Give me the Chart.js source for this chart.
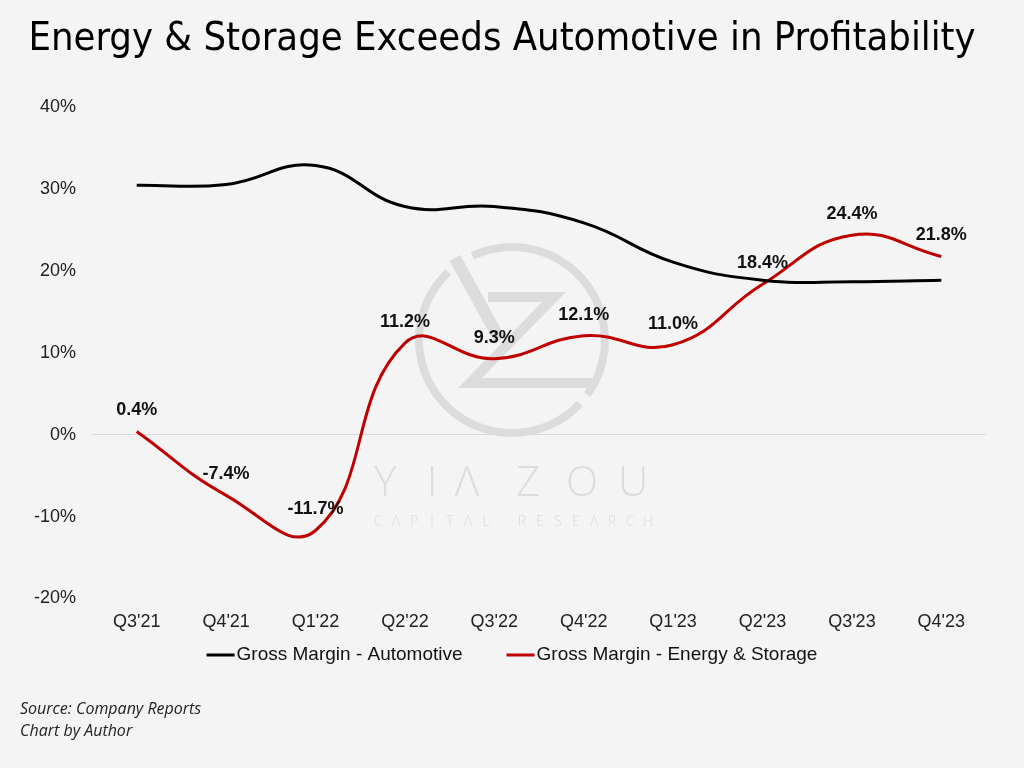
<!DOCTYPE html>
<html>
<head>
<meta charset="utf-8">
<script src="https://cdn.jsdelivr.net/npm/chart.js@4"></script>
<style>
  html, body { margin: 0; padding: 0; background: #f4f4f4; }
  canvas { display: block; }
</style>
</head>
<body>
<canvas id="chart" width="1024" height="768"></canvas>
<script>
// Chart data
const quarters = ["Q3'21", "Q4'21", "Q1'22", "Q2'22", "Q3'22", "Q4'22", "Q1'23", "Q2'23", "Q3'23", "Q4'23"];
const automotive = [30.5, 30.6, 32.9, 27.9, 27.9, 25.9, 21.1, 18.9, 18.7, 18.9];
const energyStorage = [0.4, -7.4, -11.7, 11.2, 9.3, 12.1, 11.0, 18.4, 24.4, 21.8];
const yTicks = [-20, -10, 0, 10, 20, 30, 40];
const seriesNames = ["Gross Margin - Automotive", "Gross Margin - Energy & Storage"];
const seriesColors = ["#000000", "#c00000"];

const labelFont = "'Liberation Sans', Arial, sans-serif";

// Background, watermark and source notes
const backdrop = {
  id: "backdrop",
  beforeDraw(chart) {
    const ctx = chart.ctx;
    ctx.save();
    ctx.fillStyle = "#f4f4f4";
    ctx.fillRect(0, 0, chart.width, chart.height);

    // watermark logo (ring with Y / Z strokes)
    ctx.strokeStyle = "#dcdcdc";
    ctx.lineWidth = 8;
    ctx.beginPath();
    ctx.arc(512, 340, 93, Math.PI * 1.36, Math.PI * 2.2);
    ctx.stroke();
    ctx.beginPath();
    ctx.arc(512, 340, 93, Math.PI * 0.24, Math.PI * 1.26);
    ctx.stroke();
    ctx.lineWidth = 12;
    ctx.beginPath();
    ctx.moveTo(455, 258);
    ctx.lineTo(500, 340);
    ctx.stroke();
    ctx.lineWidth = 10;
    ctx.lineJoin = "miter";
    ctx.beginPath();
    ctx.moveTo(488, 297);
    ctx.lineTo(554, 297);
    ctx.lineTo(470, 383);
    ctx.lineTo(596, 383);
    ctx.stroke();

    ctx.fillStyle = "#dcdcdc";
    ctx.font = "300 42px 'Open Sans'";
    ctx.textBaseline = "middle";
    ctx.textAlign = "center";
    const big = ["Y", "I", "\u039B", "Z", "O", "U"];
    const bigX = [385, 432, 467, 528, 582, 633];
    big.forEach((ch, i) => ctx.fillText(ch, bigX[i], 484));
    ctx.font = "300 14px 'Open Sans'";
    const small = "CAPITAL RESEARCH".split("");
    small.forEach((ch, i) => {
      if (ch !== " ") ctx.fillText(ch === "A" ? "\u039B" : ch, 378 + i * 18.0, 522);
    });

    // source notes
    ctx.fillStyle = "#222";
    ctx.textAlign = "left";
    ctx.font = "italic 16px 'Open Sans'";
    ctx.fillText("Source: Company Reports", 20, 709);
    ctx.fillText("Chart by Author", 20, 731);
    ctx.restore();
  }
};

// Value labels above the energy line, plus the legend row
const overlay = {
  id: "overlay",
  afterDatasetsDraw(chart) {
    const ctx = chart.ctx;
    const meta = chart.getDatasetMeta(1);
    ctx.save();
    ctx.font = "bold 18px " + labelFont;
    ctx.fillStyle = "#111";
    ctx.textAlign = "center";
    ctx.textBaseline = "middle";
    meta.data.forEach((pt, i) => {
      ctx.fillText(energyStorage[i].toFixed(1) + "%", pt.x, pt.y - 21);
    });

    // legend
    ctx.font = "19px " + labelFont;
    ctx.textAlign = "left";
    const gap = 44;
    const widths = seriesNames.map((n) => 30 + ctx.measureText(n).width);
    const total = widths[0] + gap + widths[1];
    let x = chart.width / 2 - total / 2;
    const y = 655;
    seriesNames.forEach((name, i) => {
      ctx.strokeStyle = seriesColors[i];
      ctx.lineWidth = 3;
      ctx.beginPath();
      ctx.moveTo(x, y);
      ctx.lineTo(x + 28, y);
      ctx.stroke();
      ctx.fillStyle = "#111";
      ctx.fillText(name, x + 30, y);
      x += widths[i] + gap;
    });
    ctx.restore();
  }
};

new Chart(document.getElementById("chart"), {
  type: "line",
  data: {
    labels: quarters,
    datasets: [
      {
        label: seriesNames[0],
        data: automotive,
        borderColor: seriesColors[0],
        borderWidth: 3,
        pointRadius: 0,
        tension: 0.45,
      },
      {
        label: seriesNames[1],
        data: energyStorage,
        borderColor: seriesColors[1],
        borderWidth: 3,
        pointRadius: 0,
        tension: 0.45,
      },
    ],
  },
  plugins: [backdrop, overlay],
  options: {
    responsive: false,
    animation: false,
    events: [],
    layout: { padding: { left: 18, right: 38, top: 0, bottom: 130 } },
    scales: {
      x: {
        offset: true,
        grid: { display: false },
        border: { display: false },
        ticks: {
          color: "#222",
          font: { family: labelFont, size: 18 },
          padding: 5,
          maxRotation: 0,
        },
      },
      y: {
        min: -20,
        max: 40,
        afterBuildTicks(axis) {
          axis.ticks = yTicks.map((v) => ({ value: v }));
        },
        grid: {
          color: (c) => (c.tick && c.tick.value === 0 ? "#d9d9d9" : "rgba(0,0,0,0)"),
          lineWidth: 1,
          drawTicks: false,
        },
        border: { display: false },
        ticks: {
          color: "#222",
          font: { family: labelFont, size: 18 },
          padding: 16,
          callback: (v) => v + "%",
        },
      },
    },
    plugins: {
      title: {
        display: true,
        text: "Energy & Storage Exceeds Automotive in Profitability",
        color: "#000",
        font: { family: "'Liberation Sans Narrow', 'DejaVu Sans Condensed', 'Liberation Sans'", size: 39.6, weight: "normal" },
        padding: { top: 16, bottom: 44 },
      },
      legend: { display: false },
      tooltip: { enabled: false },
    },
  },
});
</script>
</body>
</html>
